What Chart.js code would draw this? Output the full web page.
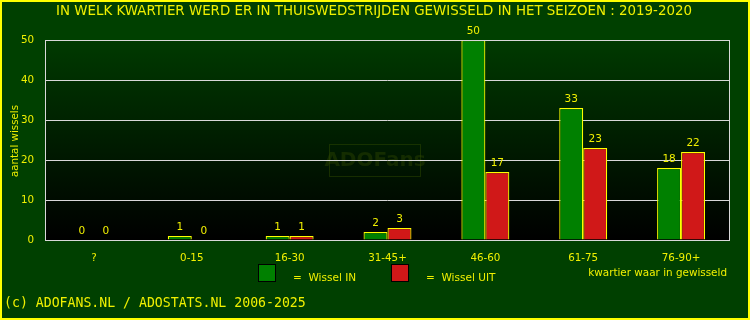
<!DOCTYPE html>
<html><head><meta charset="utf-8">
<script src="https://cdn.jsdelivr.net/npm/chart.js@4/dist/chart.umd.min.js"></script>
<style>html,body{margin:0;padding:0;background:#004000;}canvas{display:block;}</style>
</head><body>
<div style="width:750px;height:320px;"><canvas id="c" width="750" height="320"></canvas></div>
<script>
const categories = ["?", "0-15", "16-30", "31-45+", "46-60", "61-75", "76-90+"];
const wisselIn = [0, 1, 1, 2, 50, 33, 18];
const wisselUit = [0, 0, 1, 3, 17, 23, 22];
const yTicks = [0, 10, 20, 30, 40, 50];
const YEL = '#f0f000';
const FONT = 'DejaVu Sans';

const deco = {
  id: 'deco',
  beforeDraw(chart) {
    const {ctx, chartArea: a} = chart;
    ctx.save();
    ctx.fillStyle = '#004000';
    ctx.fillRect(0, 0, chart.width, chart.height);
    const g = ctx.createLinearGradient(0, a.top, 0, a.bottom);
    g.addColorStop(0, '#003a00');
    g.addColorStop(1, '#000000');
    ctx.fillStyle = g;
    ctx.fillRect(a.left, a.top, a.right - a.left, a.bottom - a.top);
    // watermark
    ctx.strokeStyle = 'rgba(50,80,0,0.45)';
    ctx.lineWidth = 1;
    ctx.strokeRect(329.5, 144.5, 91, 32);
    ctx.fillStyle = 'rgba(50,75,0,0.4)';
    ctx.font = 'bold 20px ' + FONT;
    ctx.textAlign = 'center';
    ctx.textBaseline = 'middle';
    ctx.fillText('ADOFans', 375, 161);
    ctx.restore();
  },
  afterDraw(chart) {
    const {ctx, chartArea: a} = chart;
    ctx.save();
    // plot border
    ctx.strokeStyle = '#d8d8d8';
    ctx.lineWidth = 1;
    ctx.strokeRect(a.left + 0.5, a.top + 0.5, a.right - a.left - 1, a.bottom - a.top);
    // data labels
    ctx.fillStyle = YEL;
    ctx.font = '10.5px ' + FONT;
    ctx.textAlign = 'center';
    ctx.textBaseline = 'bottom';
    chart.data.datasets.forEach((ds, i) => {
      const meta = chart.getDatasetMeta(i);
      meta.data.forEach((bar, j) => {
        ctx.fillText(String(ds.data[j]), bar.x, bar.y - 3);
      });
    });
    // title
    ctx.font = '13.4px ' + FONT;
    ctx.textBaseline = 'middle';
    ctx.fillText('IN WELK KWARTIER WERD ER IN THUISWEDSTRIJDEN GEWISSELD IN HET SEIZOEN : 2019-2020', 374, 12);
    // y title
    ctx.save();
    ctx.translate(15, 141);
    ctx.rotate(-Math.PI / 2);
    ctx.font = '10.3px ' + FONT;
    ctx.fillText('aantal wissels', 0, 0);
    ctx.restore();
    // x title
    ctx.font = '10.4px ' + FONT;
    ctx.textAlign = 'right';
    ctx.fillText('kwartier waar in gewisseld', 727, 273);
    // legend
    ctx.fillStyle = '#008000';
    ctx.fillRect(258, 264, 18, 18);
    ctx.strokeStyle = '#000';
    ctx.strokeRect(258.5, 264.5, 17, 17);
    ctx.fillStyle = '#d01818';
    ctx.fillRect(391, 264, 18, 18);
    ctx.strokeRect(391.5, 264.5, 17, 17);
    ctx.fillStyle = YEL;
    ctx.textAlign = 'left';
    ctx.font = '10.5px ' + FONT;
    ctx.fillText('=  Wissel IN', 293, 278);
    ctx.fillText('=  Wissel UIT', 426, 278);
    // footer
    ctx.font = '13.2px "DejaVu Sans Mono"';
    ctx.fillText('(c) ADOFANS.NL / ADOSTATS.NL 2006-2025', 4, 304);
    // outer border
    ctx.strokeStyle = '#ffff00';
    ctx.lineWidth = 2;
    ctx.strokeRect(1, 1, chart.width - 2, chart.height - 2);
    ctx.restore();
  }
};

new Chart(document.getElementById('c'), {
  type: 'bar',
  data: {
    labels: categories,
    datasets: [
      {label: 'Wissel IN', data: wisselIn, backgroundColor: '#008000', borderColor: '#ffff00', borderWidth: 1.2, borderSkipped: 'bottom'},
      {label: 'Wissel UIT', data: wisselUit, backgroundColor: '#d01818', borderColor: '#ffff00', borderWidth: 1.2, borderSkipped: 'bottom'}
    ]
  },
  options: {
    responsive: false,
    animation: false,
    events: [],
    layout: {padding: {left: 0, right: 20, top: 40, bottom: 50}},
    plugins: {legend: {display: false}, title: {display: false}, tooltip: {enabled: false}},
    datasets: {bar: {categoryPercentage: 0.49, barPercentage: 1.0}},
    scales: {
      x: {
        grid: {display: false},
        border: {display: false},
        ticks: {color: YEL, font: {family: FONT, size: 10.3}, maxRotation: 0, padding: 4},
        afterFit(s) { s.height = 30; }
      },
      y: {
        min: 0, max: 50,
        afterBuildTicks(s) { s.ticks = yTicks.map(v => ({value: v})); },
        grid: {color: '#d8d8d8', drawTicks: false},
        border: {display: false},
        ticks: {color: YEL, font: {family: FONT, size: 10.3}, padding: 11},
        afterFit(s) { s.width = 45; }
      }
    }
  },
  plugins: [deco]
});
</script>
</body></html>
